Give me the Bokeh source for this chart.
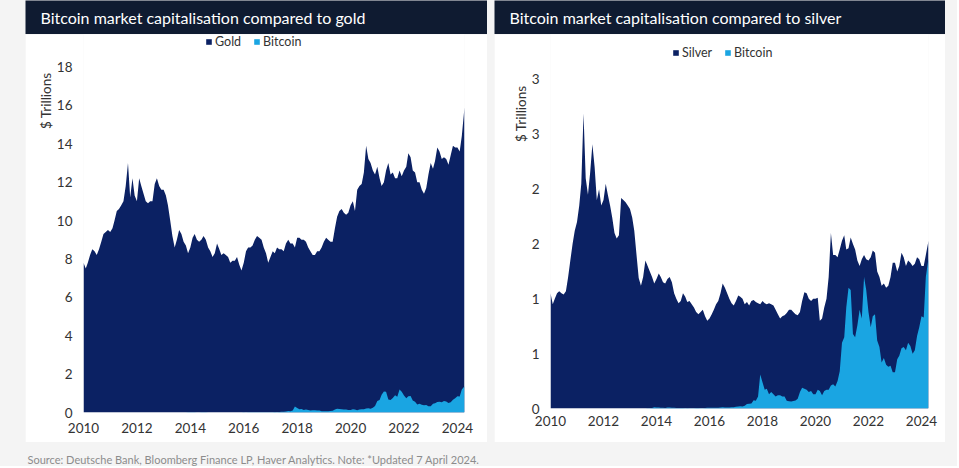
import math
import numpy as np
import pandas as pd
from bokeh.plotting import figure
from bokeh.layouts import row, column
from bokeh.models import Spacer, Label, Legend, LegendItem, FixedTicker, Range1d, Title, Plot
from bokeh.embed import file_html
from bokeh.resources import INLINE

# ---------------- data ($ trillions, month starts + last obs) ----------------
START_DATE = "2010-01-01"
END_DATE = "2024-04-07"

gold = (
    [7.8, 7.5, 7.8, 8.2, 8.5, 8.4, 8.2, 8.5, 8.9, 9.3, 9.4, 9.5] +          # 2010
    [9.4, 9.6, 10.0, 10.5, 10.6, 10.8, 11.0, 11.8, 13.0, 11.2, 12.2, 11.3] +  # 2011
    [11.0, 12.2, 11.8, 11.4, 11.0, 10.9, 11.0, 11.0, 11.9, 12.2, 11.8, 11.6] +  # 2012
    [11.6, 11.3, 10.8, 10.0, 9.2, 8.6, 9.0, 9.5, 9.3, 8.9, 8.7, 8.3] +      # 2013
    [8.6, 9.1, 9.3, 9.0, 8.9, 9.0, 9.2, 9.0, 8.6, 8.4, 8.1, 8.3] +          # 2014
    [8.8, 8.5, 8.2, 8.3, 8.2, 8.1, 7.8, 7.9, 7.9, 8.1, 7.7, 7.4] +          # 2015
    [7.8, 8.4, 8.6, 8.6, 8.7, 9.0, 9.2, 9.1, 9.0, 8.6, 8.3, 7.8] +          # 2016
    [8.1, 8.4, 8.3, 8.6, 8.5, 8.5, 8.4, 8.8, 9.0, 8.8, 8.8, 8.6] +          # 2017
    [9.1, 9.1, 9.0, 9.0, 8.9, 8.6, 8.4, 8.2, 8.2, 8.4, 8.4, 8.6] +          # 2018
    [8.9, 9.1, 9.0, 8.9, 8.9, 9.6, 10.2, 10.5, 10.6, 10.4, 10.3, 10.4] +    # 2019
    [10.8, 11.0, 10.5, 11.6, 11.8, 11.9, 12.5, 13.9, 13.2, 13.0, 12.6, 12.4] +  # 2020
    [12.8, 12.2, 11.8, 12.0, 12.6, 13.0, 12.4, 12.5, 12.2, 12.2, 12.6, 12.3] +  # 2021
    [12.6, 12.8, 13.5, 13.3, 12.6, 12.5, 12.0, 12.0, 11.6, 11.4, 11.7, 12.4] +  # 2022
    [13.0, 12.7, 13.1, 13.8, 13.6, 13.2, 13.3, 13.2, 12.9, 13.4, 13.9, 13.8] +  # 2023
    [13.8, 13.6, 14.4, 15.9]                                                  # 2024
)

silver = (
    [1.05, 0.95, 1.0, 1.05, 1.07, 1.05, 1.04, 1.07, 1.2, 1.35, 1.5, 1.62] +       # 2010
    [1.7, 1.85, 2.05, 2.69, 2.1, 1.95, 2.15, 2.41, 2.2, 1.9, 2.0, 1.85] +         # 2011
    [1.9, 2.05, 1.95, 1.85, 1.74, 1.6, 1.55, 1.58, 1.92, 1.9, 1.88, 1.85] +       # 2012
    [1.82, 1.74, 1.62, 1.4, 1.19, 1.12, 1.2, 1.35, 1.3, 1.25, 1.2, 1.14] +        # 2013
    [1.18, 1.23, 1.2, 1.15, 1.14, 1.18, 1.2, 1.15, 1.05, 1.0, 0.96, 0.98] +       # 2014
    [1.05, 1.02, 0.97, 0.98, 0.95, 0.92, 0.88, 0.86, 0.88, 0.9, 0.84, 0.8] +      # 2015
    [0.82, 0.86, 0.9, 0.95, 0.98, 1.05, 1.14, 1.1, 1.05, 1.0, 0.96, 0.94] +       # 2016
    [0.98, 1.03, 1.02, 1.0, 0.95, 0.97, 0.94, 0.98, 0.99, 0.97, 0.96, 0.95] +     # 2017
    [0.98, 0.96, 0.95, 0.96, 0.95, 0.94, 0.9, 0.86, 0.82, 0.84, 0.85, 0.87] +     # 2018
    [0.9, 0.9, 0.88, 0.86, 0.85, 0.88, 0.98, 1.06, 1.05, 1.0, 0.98, 1.0] +        # 2019
    [1.0, 1.01, 0.8, 0.82, 0.92, 1.0, 1.2, 1.6, 1.4, 1.4, 1.38, 1.45] +           # 2020
    [1.53, 1.58, 1.45, 1.46, 1.56, 1.5, 1.45, 1.35, 1.3, 1.36, 1.4, 1.36] +       # 2021
    [1.35, 1.38, 1.44, 1.42, 1.25, 1.2, 1.12, 1.14, 1.1, 1.12, 1.2, 1.33] +       # 2022
    [1.33, 1.25, 1.3, 1.42, 1.38, 1.3, 1.35, 1.33, 1.3, 1.32, 1.38, 1.36] +       # 2023
    [1.3, 1.3, 1.4, 1.53]                                                          # 2024
)

bitcoin = (
    [0.0] * 12 +                                                                     # 2010
    [0.0, 0.0, 0.0, 0.0, 0.001, 0.001, 0.001, 0.001, 0.0, 0.0, 0.0, 0.0] +           # 2011
    [0.0, 0.0, 0.0, 0.0, 0.0, 0.0, 0.001, 0.001, 0.001, 0.001, 0.001, 0.001] +       # 2012
    [0.001, 0.001, 0.001, 0.001, 0.001, 0.001, 0.001, 0.001, 0.002, 0.002, 0.004, 0.012] +  # 2013
    [0.01, 0.008, 0.007, 0.006, 0.005, 0.008, 0.008, 0.007, 0.006, 0.005, 0.005, 0.005] +   # 2014
    [0.004, 0.003, 0.004, 0.003, 0.003, 0.003, 0.004, 0.004, 0.003, 0.003, 0.004, 0.006] +  # 2015
    [0.007, 0.006, 0.007, 0.007, 0.007, 0.009, 0.011, 0.01, 0.01, 0.01, 0.011, 0.012] +     # 2016
    [0.016, 0.018, 0.02, 0.019, 0.024, 0.04, 0.043, 0.046, 0.075, 0.07, 0.11, 0.31] +       # 2017
    [0.24, 0.17, 0.18, 0.13, 0.15, 0.13, 0.11, 0.12, 0.12, 0.11, 0.11, 0.07] +              # 2018
    [0.065, 0.064, 0.068, 0.072, 0.09, 0.15, 0.19, 0.18, 0.17, 0.15, 0.16, 0.13] +          # 2019
    [0.13, 0.17, 0.16, 0.12, 0.16, 0.17, 0.17, 0.21, 0.22, 0.2, 0.25, 0.34] +               # 2020
    [0.6, 0.65, 0.92, 1.1, 1.08, 0.68, 0.65, 0.76, 0.9, 0.82, 1.2, 1.08] +                  # 2021
    [0.88, 0.74, 0.84, 0.86, 0.62, 0.56, 0.42, 0.46, 0.4, 0.38, 0.39, 0.33] +               # 2022
    [0.33, 0.45, 0.48, 0.55, 0.56, 0.53, 0.6, 0.57, 0.5, 0.53, 0.66, 0.74] +                # 2023
    [0.84, 0.83, 1.2, 1.37]                                                                  # 2024
)

YEAR_TICKS = [2010, 2012, 2014, 2016, 2018, 2020, 2022, 2024]
GOLD_TICKS = [0, 2, 4, 6, 8, 10, 12, 14, 16, 18]
SILVER_TICKS = [0, 0.5, 1.0, 1.5, 2.0, 2.5, 3.0]
SILVER_TICK_LABELS = ["0", "1", "1", "2", "2", "3", "3"]

TITLE_GOLD = "Bitcoin market capitalisation compared to gold"
TITLE_SILVER = "Bitcoin market capitalisation compared to silver"
Y_LABEL = "$ Trillions"
SOURCE = "Source: Deutsche Bank, Bloomberg Finance LP, Haver Analytics. Note: *Updated 7 April 2024."

# ---------------- styling ----------------
NAVY = "#0b2163"
BLUE = "#1aa5e2"
BAR = "#0f1b31"
PAGE_BG = "#f4f4f4"
TEXT = "#333333"
FONT = "Lato"

NOALIGN = {"frame_align": False} if "frame_align" in Plot.properties() else {}

dates = pd.date_range(START_DATE, periods=len(gold) - 1, freq="MS").append(pd.DatetimeIndex([END_DATE]))
days_in_year = np.where(dates.is_leap_year, 366.0, 365.0)
xdec = np.asarray(dates.year, dtype=float) + (np.asarray(dates.dayofyear, dtype=float) - 1.0) / days_in_year
X0, X1 = float(xdec[0]), float(xdec[-1])


def blank_fig(width, height, bg):
    p = figure(width=width, height=height, x_range=Range1d(0, width), y_range=Range1d(0, height),
               toolbar_location=None, output_backend="svg", x_axis_location=None, y_axis_location=None,
               min_border=0, **NOALIGN)
    p.grid.visible = False
    p.outline_line_color = None
    p.background_fill_color = bg
    p.border_fill_color = bg
    return p


def title_bar(width, text):
    p = blank_fig(width, 34, BAR)
    p.add_layout(Label(x=15, y=17, text=text, text_baseline="middle", text_align="left",
                       text_color="white", text_font=FONT, text_font_size="16px"))
    return p


def chart(width, series, name, ymax, yticks, ylabels, lb, rb, bb, xstand, leg_xy, ylab_offset):
    p = figure(width=width, height=408, x_range=Range1d(X0, X1), y_range=Range1d(0, ymax),
               toolbar_location=None, output_backend="svg",
               min_border_left=lb, min_border_right=rb, min_border_top=0, min_border_bottom=bb,
               **NOALIGN)
    p.grid.visible = False
    p.outline_line_color = None
    p.background_fill_color = "white"
    p.border_fill_color = "white"

    r1 = p.varea(x=xdec, y1=0, y2=series, fill_color=NAVY)
    r2 = p.varea(x=xdec, y1=0, y2=bitcoin, fill_color=BLUE)

    for ax in (p.xaxis[0], p.yaxis[0]):
        ax.axis_line_color = None
        ax.major_tick_line_color = None
        ax.minor_tick_line_color = None
        ax.major_tick_in = 0
        ax.major_tick_out = 0
        ax.minor_tick_in = 0
        ax.minor_tick_out = 0
        ax.major_label_text_font = FONT
        ax.major_label_text_font_size = "13.5px"
        ax.major_label_text_color = TEXT
    p.xaxis.ticker = FixedTicker(ticks=YEAR_TICKS)
    p.xaxis.major_label_standoff = xstand
    p.yaxis.ticker = FixedTicker(ticks=yticks)
    p.yaxis.major_label_standoff = 11
    if ylabels is not None:
        p.yaxis.major_label_overrides = {float(t): l for t, l in zip(yticks, ylabels)}

    legend = Legend(items=[LegendItem(label=name, renderers=[r1]),
                           LegendItem(label="Bitcoin", renderers=[r2])],
                    location=leg_xy, orientation="horizontal",
                    label_text_font=FONT, label_text_font_size="12.5px", label_text_color=TEXT,
                    glyph_width=7, glyph_height=7, label_height=13, label_standoff=3, spacing=12,
                    padding=0, margin=0, background_fill_alpha=0, border_line_color=None)
    p.add_layout(legend)

    p.add_layout(Title(text=Y_LABEL, align="right", vertical_align="bottom", offset=ylab_offset,
                       standoff=0, text_font=FONT, text_font_size="13.5px", text_font_style="normal",
                       text_color=TEXT), "left")
    return p


left = chart(462, gold, "Gold", 19.69, GOLD_TICKS, None, 58, 23, 30, 10, (122, 363.5), 38)
right = chart(451, silver, "Silver", 3.41, SILVER_TICKS, SILVER_TICK_LABELS, 56, 17, 34, 7, (122, 348), 51)

src = blank_fig(957, 24, PAGE_BG)
src.add_layout(Label(x=27, y=7, text=SOURCE, text_baseline="middle", text_align="left",
                     text_color="#8c8c8c", text_font=FONT, text_font_size="11px"))

root = column(
    row(Spacer(width=25, height=442),
        column(title_bar(462, TITLE_GOLD), left),
        Spacer(width=7, height=442),
        column(title_bar(451, TITLE_SILVER), right),
        Spacer(width=12, height=442)),
    src,
    styles={"background-color": PAGE_BG},
)

open("out.html", "w").write(file_html(root, INLINE))
